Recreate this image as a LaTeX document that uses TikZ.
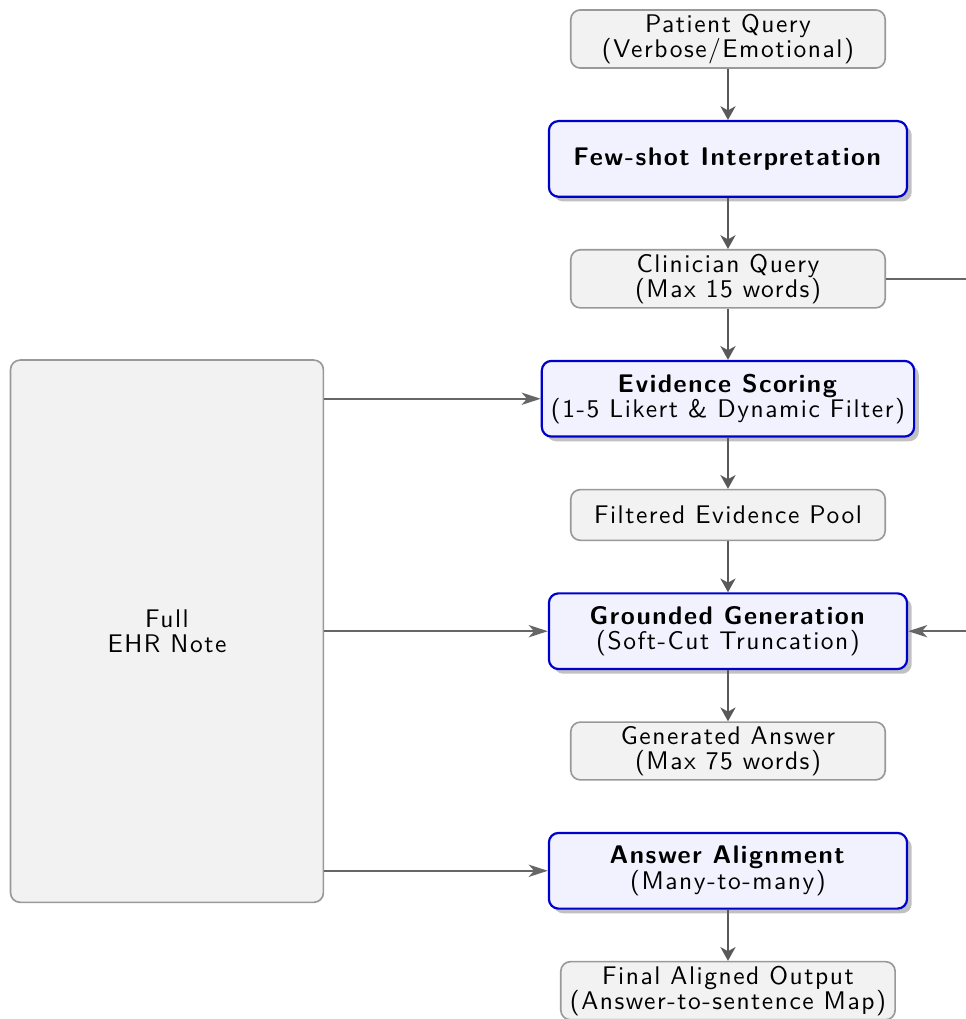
\documentclass[tikz,border=0pt]{standalone}
\usepackage{fontspec}
\setsansfont{lmsans10-regular.otf}[BoldFont=lmsans10-bold.otf, LetterSpace=6]
\usepackage{tikz}
\usetikzlibrary{positioning, shadows, arrows.meta}
\newcommand{\boxfont}{\sffamily\fontsize{9.3}{9.2}\selectfont}
\tikzset{
  iobox/.style={rectangle, rounded corners=3.5pt, draw=gray!80, fill=gray!10,
    semithick, align=center, font=\boxfont, minimum width=4.03cm, minimum height=0.65cm, inner ysep=1.5pt},
  stagebox/.style={rectangle, rounded corners=3.5pt, draw=blue!80!black, fill=blue!5,
    thick, align=center, font=\boxfont, minimum width=4.59cm, minimum height=0.97cm,
    drop shadow={shadow xshift=0.06cm, shadow yshift=-0.06cm, fill=gray!60, opacity=0.8}},
  flow/.style={-{Stealth[length=5pt, width=5.5pt, inset=1.5pt]}, thick, black!65},
  feed/.style={-{Stealth[length=7pt, width=4.5pt, inset=2pt]}, semithick, black!60}
}

\begin{document}
\begin{tikzpicture}[node distance=0.655cm]

	\useasboundingbox (0,0) rectangle (12.38,-13.06);

	% main pipeline
	\node[iobox] (pq) at (9.33,-0.5) {Patient Query\\(Verbose/Emotional)};
	\node[stagebox, below=of pq] (fs) {\textbf{Few-shot Interpretation}};
	\node[iobox, below=of fs] (cq) {Clinician Query\\(Max 15 words)};
	\node[stagebox, below=of cq] (es) {\textbf{Evidence Scoring}\\(1-5 Likert \& Dynamic Filter)};
	\node[iobox, below=of es] (fp) {Filtered Evidence Pool};
	\node[stagebox, below=of fp] (gg) {\textbf{Grounded Generation}\\(Soft-Cut Truncation)};
	\node[iobox, below=of gg] (ga) {Generated Answer\\(Max 75 words)};
	\node[stagebox, below=of ga] (aa) {\textbf{Answer Alignment}\\(Many-to-many)};
	\node[iobox, below=of aa] (fo) {Final Aligned Output\\(Answer-to-sentence Map)};

	% source note
	\coordinate (ehrx) at (2.14,0);
	\node[iobox, minimum width=4.01cm, minimum height=6.95cm] (ehr) at (ehrx |- gg) {Full\\EHR Note};

	\draw[flow] (pq) -- (fs);
	\draw[flow] (fs) -- (cq);
	\draw[flow] (cq) -- (es);
	\draw[flow] (es) -- (fp);
	\draw[flow] (fp) -- (gg);
	\draw[flow] (gg) -- (ga);
	\draw[flow] (aa) -- (fo);

	\draw[feed] (ehr.east |- es) -- (es);
	\draw[feed] (ehr.east |- gg) -- (gg);
	\draw[feed] (ehr.east |- aa) -- (aa);
	\draw[feed] (cq.east) -- ++(1.6,0) |- (gg.east);

\end{tikzpicture}
\end{document}
